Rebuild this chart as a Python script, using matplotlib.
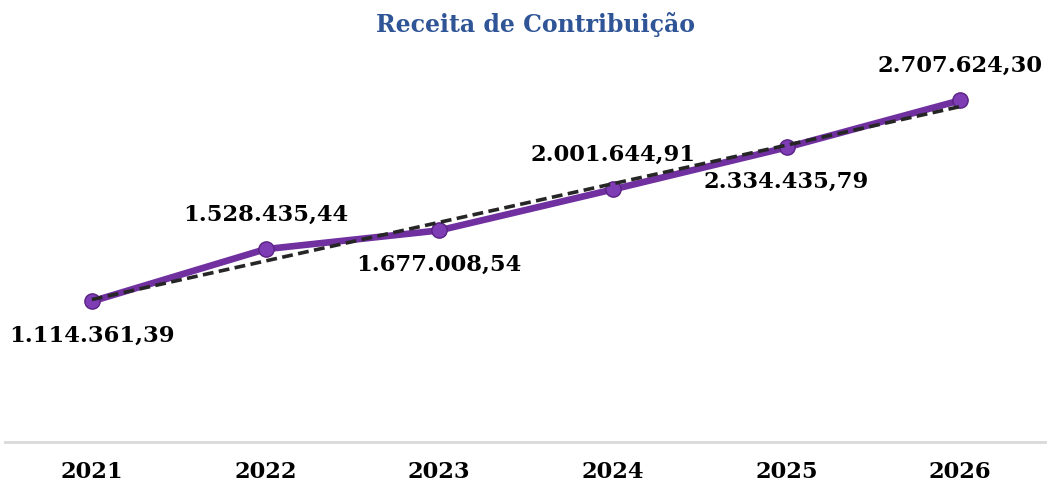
import matplotlib.pyplot as plt
import numpy as np

years = ["2021", "2022", "2023", "2024", "2025", "2026"]
values = [1114361.39, 1528435.44, 1677008.54, 2001644.91, 2334435.79, 2707624.30]
labels = ["1.114.361,39", "1.528.435,44", "1.677.008,54",
          "2.001.644,91", "2.334.435,79", "2.707.624,30"]
# label above (+1) or below (-1) the point
label_side = [-1, 1, -1, 1, -1, 1]

plt.rcParams['font.family'] = ['DejaVu Serif']

fig = plt.figure(figsize=(10.47, 4.84), dpi=100)
ax = fig.add_axes([0.0048, 0.0868, 0.9952, 0.782])

x = np.arange(len(years))

# linear trend line
coef = np.polyfit(x, values, 1)
ax.plot(x, np.polyval(coef, x), color='#262626', lw=2.6, ls=(0, (3, 1.5)), zorder=3)

ax.plot(x, values, color='#7030A0', lw=4.8, marker='o', markersize=11,
        markerfacecolor='#7E3DB5', markeredgecolor='#5A2283', markeredgewidth=1,
        zorder=2)

for xi, v, lab, side in zip(x, values, labels, label_side):
    ax.annotate(lab, (xi, v), xytext=(0, 25 * side), textcoords='offset points',
                ha='center', va='center', fontsize=16.3, fontweight='bold',
                color='black')

ax.set_xlim(-0.5, 5.5)
ax.set_ylim(0, 3000000)
ax.set_xticks(x)
ax.set_xticklabels(years, fontsize=16.3, fontweight='bold')
ax.tick_params(axis='x', length=0, pad=14)
ax.set_yticks([])

for s in ['top', 'right', 'left']:
    ax.spines[s].set_visible(False)
ax.spines['bottom'].set_color('#D9D9D9')
ax.spines['bottom'].set_linewidth(2)

fig.text(0.511, 0.95, "Receita de Contribuição", ha='center', va='center',
         fontsize=17, fontweight='bold', color='#2F5597')

plt.savefig("out.png", dpi=100)
plt.close()
